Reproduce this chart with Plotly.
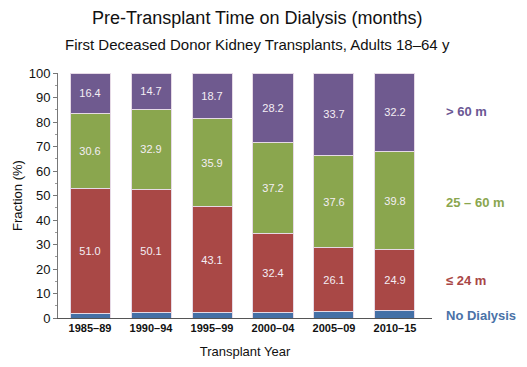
import plotly.graph_objects as go

categories = ["1985\u201389", "1990\u201394", "1995\u201399", "2000\u201304", "2005\u201309", "2010\u201315"]
no_dialysis = [2.0, 2.3, 2.3, 2.2, 2.6, 3.1]
le_24 = [51.0, 50.1, 43.1, 32.4, 26.1, 24.9]
m25_60 = [30.6, 32.9, 35.9, 37.2, 37.6, 39.8]
gt_60 = [16.4, 14.7, 18.7, 28.2, 33.7, 32.2]

series_names = ["No Dialysis", "\u2264 24 m", "25 \u2013 60 m", "> 60 m"]
series_values = [no_dialysis, le_24, m25_60, gt_60]
colors = ["#4470a6", "#a94846", "#8aa64e", "#6f5a8f"]
label_colors = ["#4a72a8", "#a94646", "#8aa64e", "#6b5794"]
show_text = [False, True, True, True]

FONT = "Liberation Sans, Arial, Helvetica, sans-serif"

fig = go.Figure()
for name, vals, col, st in zip(series_names, series_values, colors, show_text):
    fig.add_trace(go.Bar(
        x=categories, y=vals, name=name,
        marker=dict(color=col, line=dict(color="#e6dae6", width=1)),
        text=[f"{v:.1f}" for v in vals] if st else None,
        textposition="inside" if st else "none",
        insidetextanchor="middle",
        textangle=0,
        textfont=dict(color="#f4eef4", size=11, family=FONT),
        hoverinfo="skip",
    ))

label_y = [1.2, 15.5, 47.3, 84.1]
for name, ly, lc in zip(series_names, label_y, label_colors):
    fig.add_annotation(x=1.032, xref="paper", y=ly, yref="y", text=f"<b>{name}</b>",
                       showarrow=False, xanchor="left", yanchor="middle",
                       font=dict(size=13, color=lc, family=FONT))

fig.add_annotation(x=(257 - 58) / 374, xref="paper", y=1 + (73 - 18) / 245, yref="paper",
                   text="Pre-Transplant Time on Dialysis (months)", showarrow=False,
                   xanchor="center", yanchor="middle", font=dict(size=18, color="#111", family=FONT))
fig.add_annotation(x=(257 - 58) / 374, xref="paper", y=1 + (73 - 45) / 245, yref="paper",
                   text="First Deceased Donor Kidney Transplants, Adults 18\u201364 y", showarrow=False,
                   xanchor="center", yanchor="middle", font=dict(size=15, color="#111", family=FONT))

fig.update_layout(
    width=527, height=367,
    margin=dict(l=58, r=95, t=73, b=49),
    barmode="stack", bargap=0.344,
    showlegend=False,
    plot_bgcolor="white", paper_bgcolor="white",
    font=dict(family=FONT, color="#111"),
)
fig.update_xaxes(
    range=[-0.525, 5.607], showgrid=False, showline=True, linecolor="#555", linewidth=1,
    ticks="", tickfont=dict(size=11, color="#111", family=FONT),
    tickprefix="<b>", ticksuffix="</b>", automargin=False,
    title=dict(text="Transplant Year", font=dict(size=13, color="#111"), standoff=13),
)
fig.update_yaxes(
    range=[0, 100], dtick=10, showgrid=False, showline=True, linecolor="#777", linewidth=1,
    ticks="outside", ticklen=4, tickcolor="#777", tickfont=dict(size=13, color="#111"),
    minor=dict(dtick=5, ticks="outside", ticklen=2, tickcolor="#999"),
    zeroline=False, automargin=False,
    title=dict(text="Fraction (%)", font=dict(size=13, color="#111"), standoff=3),
)

fig.write_html("out.html", config={"displayModeBar": False},
               post_script="document.body.style.margin='0';document.body.style.overflow='hidden';")
